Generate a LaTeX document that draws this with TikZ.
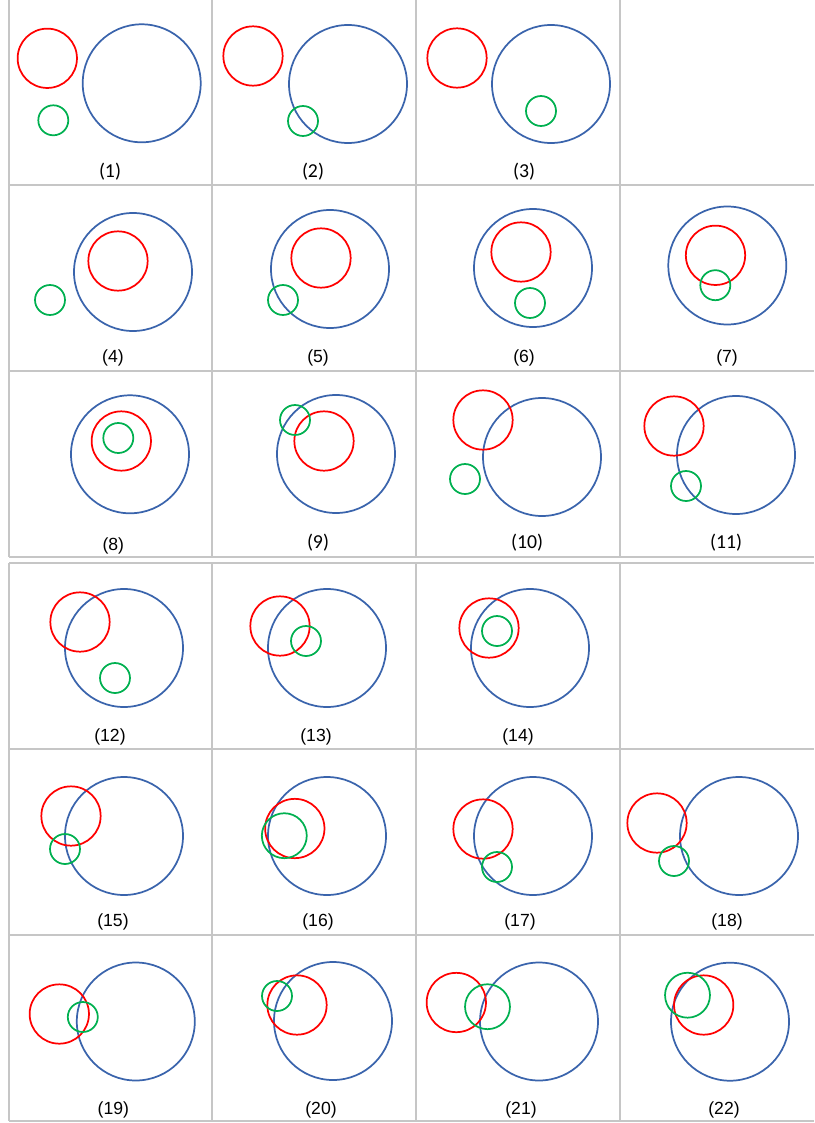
\documentclass[tikz,border=0pt]{standalone}
\usepackage{fontspec}
\setmainfont{Liberation Sans}
\newfontfamily\calfont{Carlito}
\definecolor{cblue}{HTML}{3A64AC}
\definecolor{cred}{HTML}{FF0000}
\definecolor{cgreen}{HTML}{00B050}
\definecolor{cgrid}{HTML}{C6C6C6}
\tikzset{
  bluec/.style={draw=cblue, circle, minimum size=88.5pt, inner sep=0pt, line width=1.3pt},
  redc/.style={draw=cred, circle, minimum size=44.5pt, inner sep=0pt, line width=1.3pt},
  greenc/.style={draw=cgreen, circle, minimum size=22.5pt, inner sep=0pt, line width=1.3pt},
  greenbig/.style={draw=cgreen, circle, minimum size=33.7pt, inner sep=0pt, line width=1.3pt},
  lab/.style={inner sep=0pt, yshift=-1.2pt, font=\fontsize{13.2}{15}\selectfont},
  labc/.style={inner sep=0pt, yshift=-1.2pt, font=\calfont\fontsize{14.8}{17}\selectfont},
  gridline/.style={draw=cgrid, line width=1.2pt}
}
\newcommand{\cellc}[9]{%
  \node[bluec] (b#1) at (#2) {};
  \node[redc] (r#1) at (#3) {};
  \node[#5] (g#1) at (#4) {};
  \node[#7] (l#1) at (#6) {(#1)};
}
\begin{document}
\begin{tikzpicture}[x=0.75pt,y=-0.75pt]
\useasboundingbox (0,0) rectangle (814,1123);
% table 1 grid
\draw[gridline] (9,0) -- (9,557) (212,0) -- (212,557) (416,0) -- (416,557) (620,0) -- (620,557);
\draw[gridline] (9,185) -- (814,185) (9,371) -- (814,371) (9,557) -- (814,557);
% table 2 grid
\draw[gridline] (9,563) -- (9,1121) (212,563) -- (212,1121) (416,563) -- (416,1121) (620,563) -- (620,1121);
\draw[gridline] (9,563) -- (814,563) (9,749) -- (814,749) (9,935) -- (814,935) (9,1121) -- (814,1121);
% cells
\cellc{1}{141.7,83.3}{47.3,58.3}{53.3,120.3}{greenc}{110,170}{labc}{}{}
\cellc{2}{348,84}{253,56}{303,121}{greenc}{313,170}{labc}{}{}
\cellc{3}{551,84}{457,58}{541,111}{greenc}{524,170}{labc}{}{}
\cellc{4}{133,272}{118,261}{50,300}{greenc}{113,356}{lab}{}{}
\cellc{5}{330,269}{321,258}{283,300}{greenc}{318,356}{lab}{}{}
\cellc{6}{533,268}{521,252}{530,303}{greenc}{524,356}{lab}{}{}
\cellc{7}{727.3,265.5}{715.5,255.3}{715.3,285.2}{greenc}{727,356.7}{lab}{}{}
\cellc{8}{130,454.3}{121.3,441}{118.3,438}{greenc}{113.3,544}{lab}{}{}
\cellc{9}{336,454}{324,441}{295,420}{greenc}{318,541}{labc}{}{}
\cellc{10}{542,457}{483,420}{465,479}{greenc}{527,541}{labc}{}{}
\cellc{11}{736,455}{674,426}{686,486}{greenc}{726,541}{labc}{}{}
\cellc{12}{124,648}{80,622}{115,678}{greenc}{110,735}{lab}{}{}
\cellc{13}{327,648}{280,626}{306,641}{greenc}{316,735}{lab}{}{}
\cellc{14}{530,648}{489,628}{497,631}{greenc}{518,735}{lab}{}{}
\cellc{15}{124,836}{71,816}{65,849}{greenc}{113,920}{lab}{}{}
\cellc{16}{327,836}{294.8,828.5}{284.3,835.7}{greenbig}{318,920.7}{lab}{}{}
\cellc{17}{533,836}{483,829}{497,867}{greenc}{520,920}{lab}{}{}
\cellc{18}{739,836}{657,823}{674,861}{greenc}{727,920}{lab}{}{}
\cellc{19}{135.8,1021.5}{59.3,1014}{82.8,1017}{greenc}{113.3,1108}{lab}{}{}
\cellc{20}{333,1021}{297,1005}{277,996}{greenc}{321,1108}{lab}{}{}
\cellc{21}{539,1021.5}{456.3,1002.5}{487.5,1006.7}{greenbig}{521,1108}{lab}{}{}
\cellc{22}{730,1021.7}{703.7,1005}{687.5,995.2}{greenbig}{724,1108}{lab}{}{}
\end{tikzpicture}
\end{document}
